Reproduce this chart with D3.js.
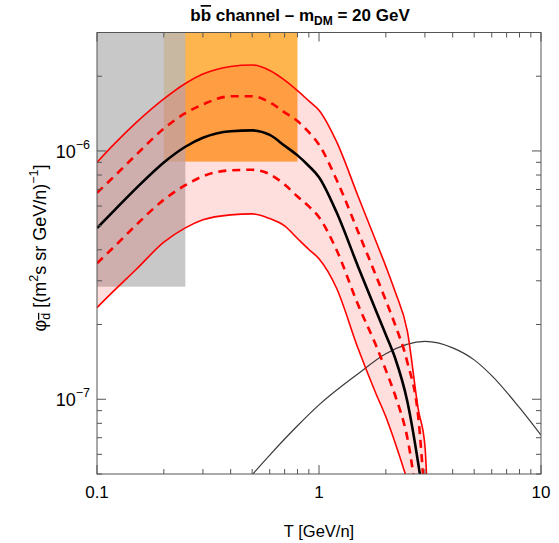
<!DOCTYPE html>
<html lang="en">
<head>
    <meta charset="utf-8">
    <title>bb channel</title>
    <style>
        body {
            margin: 0;
            background: #fff;
            font-family: "Liberation Sans", Arial, sans-serif;
        }
    </style>
</head>
<body>
<svg id="chart" width="559" height="543"></svg>
<script src="https://d3js.org/d3.v7.min.js"></script>
<script>

  // energy grid (GeV/n) for the d-bar flux curves
  const energies = [0.1, 0.12, 0.15, 0.2, 0.25, 0.3, 0.4, 0.5, 0.6, 0.7, 0.8, 0.9, 1.0,
    1.2, 1.5, 1.8, 2.0, 2.2, 2.5, 2.8, 3.0, 3.1];

  const upperMax = [9.0e-7, 1.07e-6, 1.30e-6, 1.62e-6, 1.87e-6, 2.04e-6, 2.19e-6, 2.22e-6, 2.11e-6,
    1.93e-6, 1.75e-6, 1.59e-6, 1.46e-6, 1.09e-6, 6.57e-7, 4.36e-7, 3.43e-7, 2.72e-7, 1.88e-7,
    9.1e-8, 6.5e-8, 3.5e-8];
  const upperDash = [6.78e-7, 7.93e-7, 9.65e-7, 1.23e-6, 1.42e-6, 1.54e-6, 1.66e-6, 1.66e-6, 1.57e-6,
    1.43e-6, 1.32e-6, 1.19e-6, 1.06e-6, 7.66e-7, 4.73e-7, 3.17e-7, 2.50e-7, 2.00e-7, 1.41e-7,
    8.5e-8, 4.1e-8, 3.2e-8];
  const median = [4.89e-7, 5.78e-7, 7.07e-7, 8.99e-7, 1.04e-6, 1.13e-6, 1.20e-6, 1.21e-6, 1.16e-6,
    1.05e-6, 9.6e-7, 8.7e-7, 7.84e-7, 5.66e-7, 3.42e-7, 2.29e-7, 1.82e-7, 1.47e-7, 9.8e-8,
    5.5e-8, 3.6e-8, 2.8e-8];
  const lowerDash = [3.53e-7, 4.13e-7, 5.03e-7, 6.36e-7, 7.28e-7, 7.91e-7, 8.36e-7, 8.40e-7, 8.06e-7,
    7.32e-7, 6.56e-7, 5.98e-7, 5.41e-7, 3.99e-7, 2.40e-7, 1.66e-7, 1.31e-7, 1.04e-7, 7.0e-8,
    3.8e-8, 2.9e-8, 2.4e-8];
  const lowerMin = [2.34e-7, 2.75e-7, 3.33e-7, 4.29e-7, 4.90e-7, 5.28e-7, 5.53e-7, 5.58e-7, 5.34e-7,
    4.99e-7, 4.44e-7, 4.01e-7, 3.68e-7, 2.80e-7, 1.60e-7, 1.06e-7, 8.5e-8, 6.7e-8, 4.7e-8,
    3.3e-8, 2.4e-8, 2.0e-8];

  // thin background curve
  const bgEnergies = [0.45, 0.5, 0.6, 0.8, 1.0, 1.5, 2, 3, 4, 5, 6, 8, 10];
  const bgFlux = [4.47e-8, 4.97e-8, 5.96e-8, 7.82e-8, 9.49e-8, 1.267e-7, 1.526e-7, 1.71e-7, 1.611e-7,
    1.441e-7, 1.245e-7, 9.25e-8, 7.17e-8];

  // shaded boxes: [Tmin, Tmax, fluxMin, fluxMax]
  const orangeBox = [0.2, 0.8, 9.06e-7, 1e-5];
  const grayBox = [0.1, 0.25, 2.84e-7, 1e-5];

  const xTickLabels = ["0.1", "1", "10"];
  const yTickExps = [-7, -6];

  const margin = {top: 32.5, right: 18, bottom: 69, left: 97};
  const width = 559 - margin.left - margin.right;
  const height = 543 - margin.top - margin.bottom;

  const x = d3.scaleLog().domain([0.1, 10]).range([0, width]);
  const y = d3.scaleLog().domain([5e-8, 3e-6]).range([height, 0]);

  const svg = d3.select("#chart");
  const g = svg.append("g").attr("transform", `translate(${margin.left},${margin.top})`);

  g.append("clipPath").attr("id", "plot")
    .append("rect").attr("width", width).attr("height", height);

  const plot = g.append("g").attr("clip-path", "url(#plot)");

  function box(b, fill) {
    plot.append("rect")
      .attr("x", x(b[0]))
      .attr("width", x(b[1]) - x(b[0]))
      .attr("y", y(b[3]))
      .attr("height", y(b[2]) - y(b[3]))
      .attr("fill", fill);
  }
  box(orangeBox, "#ffb54d");
  box(grayBox, "rgba(184,184,184,0.78)");

  const band = d3.area()
    .x((d, i) => x(energies[i]))
    .y0((d, i) => y(lowerMin[i]))
    .y1((d, i) => y(upperMax[i]))
    .curve(d3.curveMonotoneX);
  plot.append("path").datum(energies).attr("d", band).attr("fill", "rgba(255,0,0,0.13)");

  const line = d3.line()
    .x(d => x(d[0]))
    .y(d => y(d[1]))
    .curve(d3.curveMonotoneX);

  const zipE = arr => energies.map((e, i) => [e, arr[i]]);

  plot.append("path").datum(bgEnergies.map((e, i) => [e, bgFlux[i]]))
    .attr("d", line).attr("fill", "none").attr("stroke", "#3a3a3a").attr("stroke-width", 1.2);

  [upperMax, lowerMin].forEach(arr => {
    plot.append("path").datum(zipE(arr)).attr("d", line)
      .attr("fill", "none").attr("stroke", "#ff0000").attr("stroke-width", 1.6);
  });
  [upperDash, lowerDash].forEach(arr => {
    plot.append("path").datum(zipE(arr)).attr("d", line)
      .attr("fill", "none").attr("stroke", "#ff0000").attr("stroke-width", 2.6)
      .attr("stroke-dasharray", "8,6");
  });
  plot.append("path").datum(zipE(median)).attr("d", line)
    .attr("fill", "none").attr("stroke", "#000").attr("stroke-width", 2.6);

  // frame and inward ticks
  const axisColor = "#555";
  g.append("rect").attr("width", width).attr("height", height)
    .attr("fill", "none").attr("stroke", axisColor).attr("stroke-width", 1);

  const isMajor = v => Math.abs(Math.log10(v) - Math.round(Math.log10(v))) < 1e-6;

  x.ticks().forEach(t => {
    const len = isMajor(t) ? 9 : 5;
    g.append("line").attr("x1", x(t)).attr("x2", x(t)).attr("y1", height).attr("y2", height - len)
      .attr("stroke", axisColor);
    g.append("line").attr("x1", x(t)).attr("x2", x(t)).attr("y1", 0).attr("y2", len)
      .attr("stroke", axisColor);
  });
  y.ticks().forEach(t => {
    const len = isMajor(t) ? 9 : 5;
    g.append("line").attr("y1", y(t)).attr("y2", y(t)).attr("x1", 0).attr("x2", len)
      .attr("stroke", axisColor);
    g.append("line").attr("y1", y(t)).attr("y2", y(t)).attr("x1", width).attr("x2", width - len)
      .attr("stroke", axisColor);
  });

  // tick labels
  xTickLabels.forEach(s => {
    g.append("text").attr("x", x(+s)).attr("y", height + 24)
      .attr("text-anchor", "middle").attr("font-size", 17).text(s);
  });
  yTickExps.forEach(e => {
    const t = g.append("text").attr("x", -7).attr("y", y(Math.pow(10, e)) + 7)
      .attr("text-anchor", "end").attr("font-size", 18);
    t.append("tspan").text("10");
    t.append("tspan").attr("font-size", 12.5).attr("dy", -9).text("\u2212" + Math.abs(e));
  });

  // axis titles
  g.append("text").attr("x", width / 2).attr("y", height + 63)
    .attr("text-anchor", "middle").attr("font-size", 16.5).text("T [GeV/n]");

  const yl = svg.append("text")
    .attr("transform", "translate(46,248) rotate(-90)")
    .attr("text-anchor", "middle").attr("font-size", 18);
  yl.append("tspan").text("\u03c6");
  yl.append("tspan").attr("font-size", 12.5).attr("dy", 4)
    .style("text-decoration", "overline").text("d");
  yl.append("tspan").attr("dy", -4).text(" [(m");
  yl.append("tspan").attr("font-size", 12.5).attr("dy", -8).text("2");
  yl.append("tspan").attr("dy", 8).text("s sr GeV/n)");
  yl.append("tspan").attr("font-size", 12.5).attr("dy", -8).text("\u22121");
  yl.append("tspan").attr("dy", 8).text("]");

  // title
  const title = svg.append("text").attr("x", 300).attr("y", 21)
    .attr("text-anchor", "middle").attr("font-size", 17).attr("font-weight", "bold");
  title.append("tspan").text("b");
  title.append("tspan").style("text-decoration", "overline").text("b");
  title.append("tspan").text(" channel \u2013 m");
  title.append("tspan").attr("font-size", 12).attr("dy", 4).text("DM");
  title.append("tspan").attr("dy", -4).text(" = 20 GeV");

</script>
</body>
</html>
